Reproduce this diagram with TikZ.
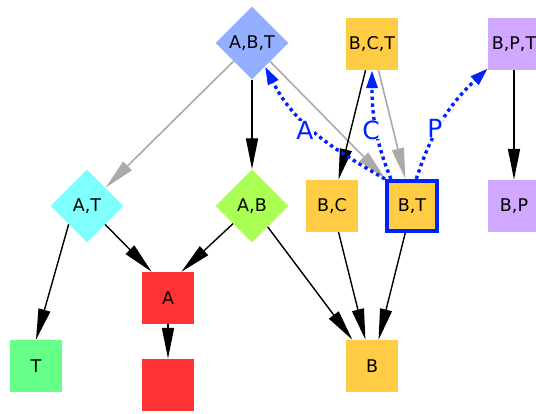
\documentclass[tikz,border=0pt]{standalone}
\usepackage{fontspec}
\setmainfont{DejaVu Sans}
\usetikzlibrary{shapes.geometric,arrows.meta}
\definecolor{cabt}{RGB}{148,175,255}
\definecolor{cgold}{RGB}{255,204,68}
\definecolor{cviolet}{RGB}{208,168,255}
\definecolor{ccyan}{RGB}{128,255,255}
\definecolor{clime}{RGB}{170,255,85}
\definecolor{cred}{RGB}{255,51,51}
\definecolor{cgreen}{RGB}{102,255,136}
\definecolor{depblue}{RGB}{0,34,255}
\definecolor{edgegray}{RGB}{170,170,170}
\begin{document}
\begin{tikzpicture}[x=1pt,y=1pt,
  box/.style={rectangle, minimum size=52pt, inner sep=0pt, font=\fontsize{17.5}{20}\selectfont},
  dia/.style={diamond, aspect=1, minimum width=73pt, minimum height=73pt, inner sep=0pt, font=\fontsize{17.5}{20}\selectfont},
  blk/.style={draw=black, line width=1.4pt, -{Triangle[length=31pt,width=12pt]}},
  gry/.style={draw=edgegray, line width=1.6pt, -{Triangle[length=31pt,width=12pt]}},
  dep/.style={draw=depblue, line width=3.4pt, dash pattern=on 3.4pt off 3.4pt, -{Triangle[length=18pt,width=11pt]}},
  lbl/.style={text=depblue, font=\fontsize{25}{30}\selectfont, fill=white, inner sep=0pt}]
\useasboundingbox (0,0) rectangle (536,-414);

% nodes
\node[dia, fill=cabt] (abt) at (252,-43) {A,B,T};
\node[box, fill=cgold] (bct) at (372,-44) {B,C,T};
\node[box, fill=cviolet] (bpt) at (514,-44) {B,P,T};
\node[dia, fill=ccyan] (at) at (87,-206) {A,T};
\node[dia, fill=clime] (ab) at (252,-206) {A,B};
\node[box, fill=cgold] (bc) at (332,-206) {B,C};
\node[box, fill=cgold, draw=depblue, line width=4pt, minimum size=50pt] (bt) at (412,-206) {B,T};
\node[box, fill=cviolet] (bp) at (514,-206) {B,P};
\node[box, fill=cred] (a) at (168,-298) {A};
\node[box, fill=cred] (a2) at (168,-385) {};
\node[box, fill=cgreen] (t) at (36,-366) {T};
\node[box, fill=cgold] (b) at (372,-366) {B};

% gray edges
\draw[gry] (abt) -- (at);
\draw[gry] (abt) -- (bt);
\draw[gry] (bct) -- (bt);

% black edges
\draw[blk] (abt.south) -- (ab.north);
\draw[blk] (bct) -- (bc);
\draw[blk] (bpt.south) -- (bp.north);
\draw[blk] (at.225) -- (t.north);
\draw[blk] (at) -- (a.122);
\draw[blk] (ab) -- (a.63);
\draw[blk] (ab) -- (b);
\draw[blk] (bc) -- (b);
\draw[blk] (bt) -- (b);
\draw[blk] (a.south) -- (a2.north);

% dotted dependency edges
\draw[dep] (bt.north west) to[out=150, in=-63] (abt.299);
\draw[dep] (bt.128) to[out=112, in=-90] (bct.south);
\draw[dep] (bt.81) to[out=72, in=-137] (bpt.223);

\node[lbl] (la) at (305,-130) {A};
\node[lbl] (lc) at (371,-130) {C};
\node[lbl] (lp) at (435,-128) {P};
\end{tikzpicture}
\end{document}
